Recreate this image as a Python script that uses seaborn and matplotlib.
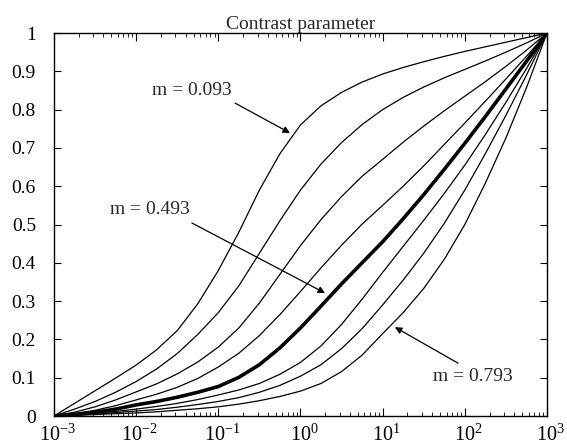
import matplotlib
matplotlib.use("Agg")
import matplotlib.pyplot as plt
import matplotlib.ticker as mticker
import matplotlib.transforms as mtrans
import seaborn as sns
import numpy as np
import pandas as pd

# log10 of the abscissa, read at quarter decades
log_x = [-3, -2.75, -2.5, -2.25, -2, -1.75, -1.5, -1.25, -1, -0.75, -0.5, -0.25,
         0, 0.25, 0.5, 0.75, 1, 1.25, 1.5, 1.75, 2, 2.25, 2.5, 2.75, 3]

m_values = [0.093, 0.193, 0.293, 0.393, 0.493, 0.593, 0.693, 0.793]

curve_093 = [0.0, 0.033, 0.066, 0.099, 0.133, 0.173, 0.223, 0.293, 0.38, 0.48, 0.59, 0.685,
             0.76, 0.81, 0.845, 0.872, 0.893, 0.91, 0.925, 0.939, 0.952, 0.964, 0.976, 0.988, 1.0]
curve_193 = [0.0, 0.018, 0.038, 0.062, 0.09, 0.123, 0.163, 0.213, 0.27, 0.34, 0.425, 0.51,
             0.59, 0.658, 0.714, 0.761, 0.80, 0.832, 0.859, 0.883, 0.905, 0.927, 0.95, 0.974, 1.0]
curve_293 = [0.0, 0.01, 0.024, 0.042, 0.063, 0.084, 0.11, 0.141, 0.18, 0.23, 0.295, 0.37,
             0.445, 0.513, 0.573, 0.626, 0.67, 0.715, 0.757, 0.797, 0.835, 0.873, 0.913, 0.955, 1.0]
curve_393 = [0.0, 0.006, 0.015, 0.027, 0.042, 0.057, 0.075, 0.098, 0.128, 0.164, 0.21, 0.265,
             0.325, 0.387, 0.446, 0.501, 0.55, 0.60, 0.653, 0.709, 0.765, 0.822, 0.88, 0.939, 1.0]
curve_493 = [0.0, 0.004, 0.01, 0.018, 0.029, 0.038, 0.049, 0.062, 0.077, 0.101, 0.134, 0.178,
             0.23, 0.287, 0.345, 0.40, 0.455, 0.515, 0.578, 0.644, 0.712, 0.782, 0.854, 0.926, 1.0]
curve_593 = [0.0, 0.003, 0.007, 0.012, 0.018, 0.025, 0.033, 0.043, 0.055, 0.068, 0.085, 0.109,
             0.14, 0.183, 0.239, 0.305, 0.375, 0.443, 0.511, 0.581, 0.655, 0.735, 0.819, 0.907, 1.0]
curve_693 = [0.0, 0.002, 0.005, 0.009, 0.013, 0.017, 0.023, 0.03, 0.038, 0.048, 0.062, 0.08,
             0.104, 0.134, 0.176, 0.228, 0.29, 0.355, 0.425, 0.503, 0.59, 0.685, 0.785, 0.89, 1.0]
curve_793 = [0.0, 0.002, 0.004, 0.006, 0.008, 0.011, 0.015, 0.019, 0.024, 0.031, 0.04, 0.051,
             0.065, 0.085, 0.116, 0.159, 0.215, 0.27, 0.333, 0.409, 0.50, 0.608, 0.726, 0.857, 1.0]

curves = [curve_093, curve_193, curve_293, curve_393, curve_493, curve_593, curve_693, curve_793]

x_ticks = [1e-3, 1e-2, 1e-1, 1e0, 1e1, 1e2, 1e3]
y_ticks = [0, 0.1, 0.2, 0.3, 0.4, 0.5, 0.6, 0.7, 0.8, 0.9, 1]


sns.set_theme(style="ticks")
plt.rcParams["font.family"] = ["Liberation Serif", "DejaVu Serif"]
plt.rcParams["mathtext.fontset"] = "stix"

fig = plt.figure(figsize=(5.67, 4.48), dpi=100)
ax = fig.add_axes([0.0952, 0.0714, 0.8695, 0.8549])

x = 10 ** np.array(log_x)
for m, vals in zip(m_values, curves):
    df = pd.DataFrame({"x": x, "y": vals})
    lw = 2.6 if m == 0.493 else 0.9
    sns.lineplot(data=df, x="x", y="y", ax=ax, color="black", lw=lw, sort=False,
                 estimator=None, solid_joinstyle="round")

ax.set_xscale("log")
ax.set_xlim(1e-3, 1e3)
ax.set_ylim(0, 1)
ax.set_xlabel("")
ax.set_ylabel("")
ax.set_yticks(y_ticks)
ax.yaxis.set_major_formatter(mticker.FormatStrFormatter("%g"))
minor = [d * k for d in x_ticks[:-1] for k in range(2, 10)]
ax.xaxis.set_major_locator(mticker.FixedLocator(x_ticks))
ax.xaxis.set_minor_locator(mticker.FixedLocator(minor))
ax.xaxis.set_major_formatter(mticker.LogFormatterSciNotation())
ax.xaxis.set_minor_formatter(mticker.NullFormatter())

ax.tick_params(which="both", direction="in", top=True, right=True, colors="black",
               labelsize=14)
ax.tick_params(axis="y", which="major", length=5, width=0.8, pad=13)
ax.tick_params(axis="x", which="major", length=6, width=0.8, pad=6, labelsize=14.5)
ax.tick_params(axis="x", which="minor", length=3, width=0.6)
for sp in ax.spines.values():
    sp.set_linewidth(1.0)
    sp.set_color("black")

# x labels sit a little right of their ticks in the original
shift = mtrans.ScaledTranslation(0.035, 0, fig.dpi_scale_trans)
for lab in ax.get_xticklabels():
    lab.set_transform(lab.get_transform() + shift)

ax.set_title("Contrast parameter", fontsize=14, pad=3)

arrow = dict(arrowstyle="-|>", color="black", lw=0.9, mutation_scale=10,
             shrinkA=0, shrinkB=0)
ax.annotate("", xy=(0.745, 0.739), xytext=(0.16, 0.817), arrowprops=arrow)
ax.text(0.0477, 0.849, "m = 0.093", fontsize=14, ha="center", va="center")
ax.annotate("", xy=(1.99, 0.321), xytext=(0.0477, 0.504), arrowprops=arrow)
ax.text(0.0147, 0.538, "m = 0.493", fontsize=14, ha="center", va="center")
ax.annotate("", xy=(14.1, 0.232), xytext=(82.6, 0.138), arrowprops=arrow)
ax.text(125.6, 0.102, "m = 0.793", fontsize=14, ha="center", va="center")

fig.savefig("out.png", dpi=100)
